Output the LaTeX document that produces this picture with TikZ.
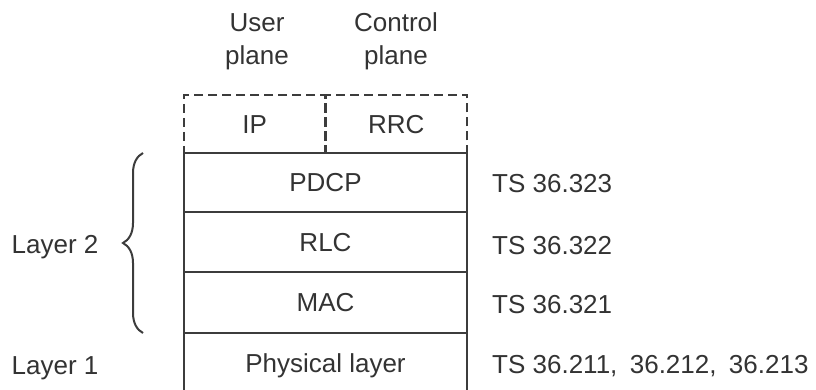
\documentclass[tikz,border=0pt]{standalone}
\usepackage{fontspec}
\setmainfont{Liberation Sans}
\usetikzlibrary{decorations.pathreplacing}
\definecolor{ink}{HTML}{333333}
\definecolor{rule}{HTML}{3C3C3C}
\tikzset{
  txt/.style={inner sep=0pt, text=ink, font=\fontsize{26}{33}\selectfont},
  layerbox/.style={draw=rule, line width=2.4pt, minimum width=283pt, inner sep=0pt,
    text=ink, font=\fontsize{26}{33}\selectfont, text height=18.6pt, text depth=0pt},
  planebox/.style={draw=rule, line width=2.4pt, dash pattern=on 9pt off 5pt,
    minimum width=141.5pt, minimum height=58pt, inner sep=0pt,
    text=ink, font=\fontsize{26}{33}\selectfont, text height=18.6pt, text depth=0pt},
  bracket/.style={draw=rule, line width=2pt, decorate,
    decoration={brace, amplitude=20pt}},
}
\begin{document}
\begin{tikzpicture}[x=1pt, y=-1pt]
  \useasboundingbox (0,0) rectangle (816,390);

  % plane headings (base anchor sits on the second line)
  \node[txt, align=center, anchor=base] (uphead) at (257,65) {User\\plane};
  \node[txt, align=center, anchor=base] (cphead) at (396,65) {Control\\plane};

  % protocol stack
  \node[planebox] (ip)  at (254.75,124) {IP};
  \node[planebox] (rrc) at (396.25,124) {RRC};
  \node[layerbox, minimum height=59pt] (pdcp) at (325.5,182.5) {PDCP};
  \node[layerbox, minimum height=60pt] (rlc)  at (325.5,242)   {RLC};
  \node[layerbox, minimum height=61pt] (mac)  at (325.5,302.5) {MAC};
  \node[layerbox, minimum height=80pt] (phy)  at (325.5,373)   {};
  \node[txt, text height=18.6pt, text depth=0pt] (phytext) at (325.5,363) {Physical layer};

  % specification references
  \node[txt, anchor=base west] (ts323) at (492,193) {TS 36.323};
  \node[txt, anchor=base west] (ts322) at (492,254) {TS 36.322};
  \node[txt, anchor=base west] (ts321) at (492,313) {TS 36.321};
  \node[txt, anchor=base west] (ts21x) at (492,373)
    {TS 36.211,\hspace{12.4pt}36.212,\hspace{12.4pt}36.213};

  % layer grouping
  \node[txt, anchor=base west] (l2) at (11.5,253) {Layer 2};
  \node[txt, anchor=base west] (l1) at (11.5,374) {Layer 1};
  \coordinate (btop) at (143,153);
  \coordinate (bbot) at (143,333);
  \draw[bracket] (bbot) -- (btop);
\end{tikzpicture}
\end{document}
